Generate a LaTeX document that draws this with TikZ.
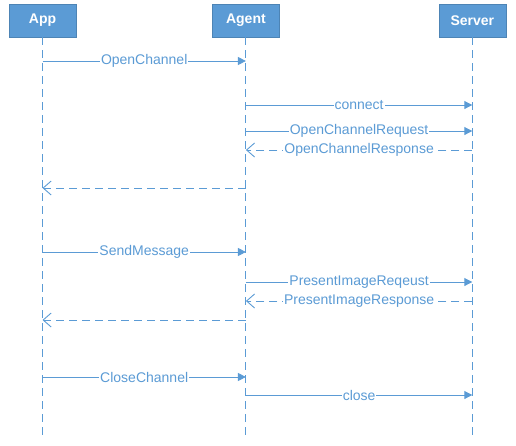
\documentclass[tikz,border=0pt]{standalone}
\usepackage{fontspec}
\setmainfont{Liberation Sans}
\usetikzlibrary{arrows.meta,positioning,shadows}
\definecolor{seqblue}{HTML}{5B9BD5}
\tikzset{
  actor/.style={draw=seqblue!85!black, fill=seqblue, text=white,
    font=\bfseries\fontsize{14}{16}\selectfont, minimum width=67pt, minimum height=33pt,
    drop shadow={opacity=0.2, shadow xshift=1pt, shadow yshift=-1pt}},
  lifeline/.style={seqblue, line width=1pt, dash pattern=on 8pt off 5pt},
  call/.style={seqblue, line width=0.9pt, -{Triangle[length=8pt,width=8pt]}},
  reply/.style={seqblue, line width=0.9pt, dash pattern=on 8pt off 5pt,
    -{Straight Barb[length=8pt,width=14pt]}},
  msg/.style={fill=white, inner sep=1pt, text=seqblue, font=\fontsize{14}{16}\selectfont}
}

\begin{document}
\begin{tikzpicture}[x=1pt, y=-1pt]
\useasboundingbox (0,0) rectangle (516,445);

% Participants
\node[actor] (app) at (42.5,20.5) {App};
\node[actor, right=136pt of app] (agent) {Agent};
\node[actor, right=159pt of agent] (server) {Server};

% Lifelines
\foreach \p in {app,agent,server} {
  \coordinate (\p-end) at (\p.center |- 0,438);
  \draw[lifeline] (\p.south) -- (\p-end);
}

% Anchor points on the lifelines
\foreach \y in {61,105,131,150,188,252,282,301,320,377,395} {
  \coordinate (app-\y) at (app.center |- 0,\y);
  \coordinate (agent-\y) at (agent.center |- 0,\y);
  \coordinate (server-\y) at (server.center |- 0,\y);
}

% Open channel
\draw[call] (app-61) -- node[msg] {OpenChannel} (agent-61);
\draw[call] (agent-105) -- node[msg] {connect} (server-105);
\draw[call] (agent-131) -- node[msg] {OpenChannelRequest} (server-131);
\draw[reply] (server-150) -- node[msg] {OpenChannelResponse} (agent-150);
\draw[reply] (agent-188) -- (app-188);

% Send message
\draw[call] (app-252) -- node[msg] {SendMessage} (agent-252);
\draw[call] (agent-282) -- node[msg] {PresentImageReqeust} (server-282);
\draw[reply] (server-301) -- node[msg] {PresentImageResponse} (agent-301);
\draw[reply] (agent-320) -- (app-320);

% Close channel
\draw[call] (app-377) -- node[msg] {CloseChannel} (agent-377);
\draw[call] (agent-395) -- node[msg] {close} (server-395);
\end{tikzpicture}
\end{document}
